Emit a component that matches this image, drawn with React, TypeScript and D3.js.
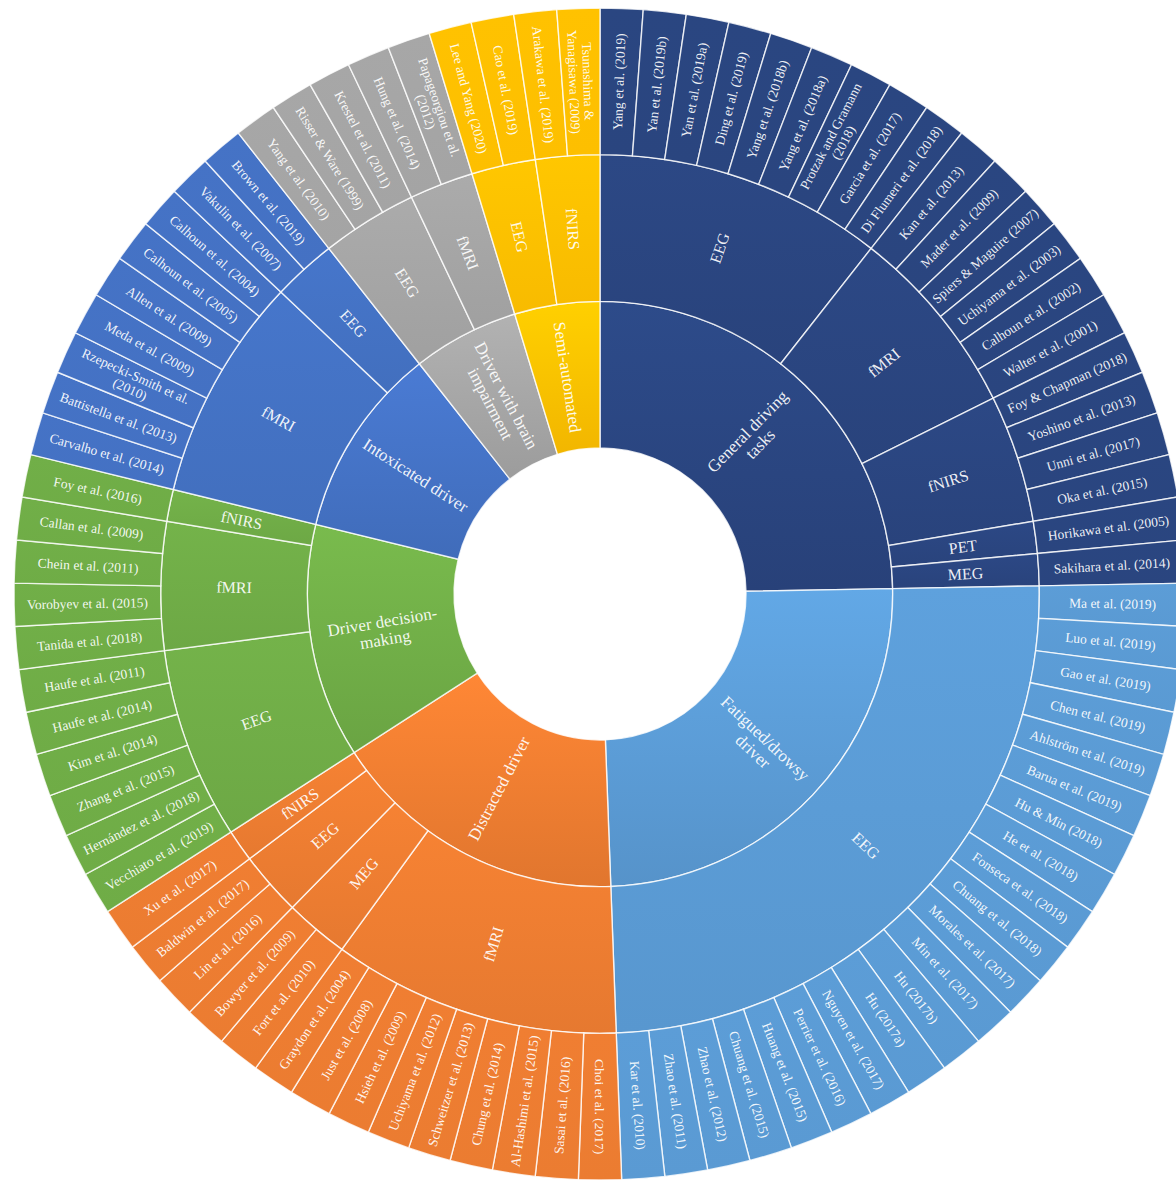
import React from "react";
import * as d3 from "d3";

// ---------- DATA ----------
const categories = [
  "General driving\ntasks",
  "Fatigued/drowsy\ndriver",
  "Distracted driver",
  "Driver decision-\nmaking",
  "Intoxicated driver",
  "Driver with brain\nimpairment",
  "Semi-automated",
];

const categoryColors = ["#2A4580", "#5B9BD5", "#ED7D31", "#70AD47", "#4472C4", "#A5A5A5", "#FFC000"];

const generalDriving = [
  { modality: "EEG", papers: ["Yang et al. (2019)", "Yan et al. (2019b)", "Yan et al. (2019a)", "Ding et al. (2019)", "Yang et al. (2018b)", "Yang et al. (2018a)", "Protzak and Gramann\n(2018)", "Garcia et al. (2017)", "Di Flumeri et al. (2018)"] },
  { modality: "fMRI", papers: ["Kan et al. (2013)", "Mader et al. (2009)", "Spiers & Maguire (2007)", "Uchiyama et al. (2003)", "Calhoun et al. (2002)", "Walter et al. (2001)"] },
  { modality: "fNIRS", papers: ["Foy & Chapman (2018)", "Yoshino et al. (2013)", "Unni et al. (2017)", "Oka et al. (2015)"] },
  { modality: "PET", papers: ["Horikawa et al. (2005)"] },
  { modality: "MEG", papers: ["Sakihara et al. (2014)"] },
];

const fatiguedDriver = [
  { modality: "EEG", papers: ["Ma et al. (2019)", "Luo et al. (2019)", "Gao et al. (2019)", "Chen et al. (2019)", "Ahlström et al. (2019)", "Barua et al. (2019)", "Hu & Min (2018)", "He et al. (2018)", "Fonseca et al. (2018)", "Chuang et al. (2018)", "Morales et al. (2017)", "Min et al. (2017)", "Hu (2017b)", "Hu (2017a)", "Nguyen et al. (2017)", "Perrier et al. (2016)", "Huang et al. (2015)", "Chuang et al. (2015)", "Zhao et al. (2012)", "Zhao et al. (2011)", "Kar et al. (2010)"] },
];

const distractedDriver = [
  { modality: "fMRI", papers: ["Choi et al. (2017)", "Sasai et al. (2016)", "Al-Hashimi et al. (2015)", "Chung et al. (2014)", "Schweitzer et al. (2013)", "Uchiyama et al. (2012)", "Hsieh et al. (2009)", "Just et al. (2008)", "Graydon et al. (2004)"] },
  { modality: "MEG", papers: ["Fort et al. (2010)", "Bowyer et al. (2009)"] },
  { modality: "EEG", papers: ["Lin et al. (2016)", "Baldwin et al. (2017)"] },
  { modality: "fNIRS", papers: ["Xu et al. (2017)"] },
];

const decisionMaking = [
  { modality: "EEG", papers: ["Vecchiato et al. (2019)", "Hernández et al. (2018)", "Zhang et al. (2015)", "Kim et al. (2014)", "Haufe et al. (2014)", "Haufe et al. (2011)"] },
  { modality: "fMRI", papers: ["Tanida et al. (2018)", "Vorobyev et al. (2015)", "Chein et al. (2011)", "Callan et al. (2009)"] },
  { modality: "fNIRS", papers: ["Foy et al. (2016)"] },
];

const intoxicatedDriver = [
  { modality: "fMRI", papers: ["Carvalho et al. (2014)", "Battistella et al. (2013)", "Rzepecki-Smith et al.\n(2010)", "Meda et al. (2009)", "Allen et al. (2009)", "Calhoun et al. (2005)", "Calhoun et al. (2004)"] },
  { modality: "EEG", papers: ["Vakulin et al. (2007)", "Brown et al. (2019)"] },
];

const brainImpairment = [
  { modality: "EEG", papers: ["Yang et al. (2010)", "Risser & Ware (1999)", "Krestel et al. (2011)"] },
  { modality: "fMRI", papers: ["Hung et al. (2014)", "Papageorgiou et al.\n(2012)"] },
];

const semiAutomated = [
  { modality: "EEG", papers: ["Lee and Yang (2020)", "Cao et al. (2019)"] },
  { modality: "fNIRS", papers: ["Arakawa et al. (2019)", "Tsunashima &\nYanagisawa (2009)"] },
];

const groups = [generalDriving, fatiguedDriver, distractedDriver, decisionMaking, intoxicatedDriver, brainImpairment, semiAutomated];

// ---------- CHART ----------
type Node = { name: string; color?: string; children?: Node[] };

const tree: Node = {
  name: "root",
  children: categories.map((c, i) => ({
    name: c,
    color: categoryColors[i],
    children: groups[i].map((g) => ({
      name: g.modality,
      children: g.papers.map((p) => ({ name: p })),
    })),
  })),
};

const W = 1176;
const H = 1183;
const CX = 600;
const CY = 594;

export default function App() {
  const hier = d3.hierarchy<Node>(tree).sum((d) => (d.children ? 0 : 1));
  const root = d3.partition<Node>().size([2 * Math.PI, 4])(hier);
  const rScale = d3.scaleLinear().domain([1, 4]).range([146, 586]);
  const arc = d3
    .arc<any>()
    .startAngle((d) => d.x0)
    .endAngle((d) => d.x1)
    .innerRadius((d) => rScale(d.y0))
    .outerRadius((d) => rScale(d.y1));

  const nodes = root.descendants().filter((d) => d.depth > 0);
  const baseColor = (d: any) => {
    let n = d;
    while (n.depth > 1) n = n.parent;
    return n.data.color as string;
  };

  const fontSize = (depth: number) => (depth === 1 ? 17 : depth === 2 ? 16 : 13.5);

  return (
    <svg width={W} height={H} style={{ position: "absolute", left: 0, top: 0 }} fontFamily="'Liberation Serif', 'Times New Roman', serif">
      <defs>
        {nodes.map((d, i) => {
          const c = d3.color(baseColor(d))!;
          const up = d.depth === 1 ? 0.22 : d.depth === 2 ? 0.1 : 0.03;
          const down = d.depth === 1 ? 0.15 : d.depth === 2 ? 0.08 : 0.02;
          return (
            <linearGradient key={i} id={`g${i}`} x1="0" y1="0" x2="0" y2="1">
              <stop offset="0%" stopColor={c.brighter(up).formatHex()} />
              <stop offset="100%" stopColor={c.darker(down).formatHex()} />
            </linearGradient>
          );
        })}
      </defs>
      <g transform={`translate(${CX},${CY})`}>
        {nodes.map((d, i) => (
          <path key={i} d={arc(d)!} fill={`url(#g${i})`} stroke="#ffffff" strokeOpacity={0.8} strokeWidth={1.4} />
        ))}
        {nodes.map((d, i) => {
          const a = (d.x0 + d.x1) / 2;
          const deg = (a * 180) / Math.PI;
          const r = (rScale(d.y0) + rScale(d.y1)) / 2;
          const x = r * Math.sin(a);
          const y = -r * Math.cos(a);
          const rot = deg <= 180.001 ? deg - 90 : deg - 270;
          const lines = d.data.name.split("\n");
          const fs = fontSize(d.depth);
          const lh = 1.05;
          return (
            <text
              key={`t${i}`}
              transform={`translate(${x},${y}) rotate(${rot})`}
              textAnchor="middle"
              fontSize={fs}
              fill="#ffffff"
              fillOpacity={0.93}
            >
              {lines.map((ln, j) => (
                <tspan key={j} x={0} dy={j === 0 ? `${-((lines.length - 1) / 2) * lh + 0.35}em` : `${lh}em`}>
                  {ln}
                </tspan>
              ))}
            </text>
          );
        })}
      </g>
    </svg>
  );
}
